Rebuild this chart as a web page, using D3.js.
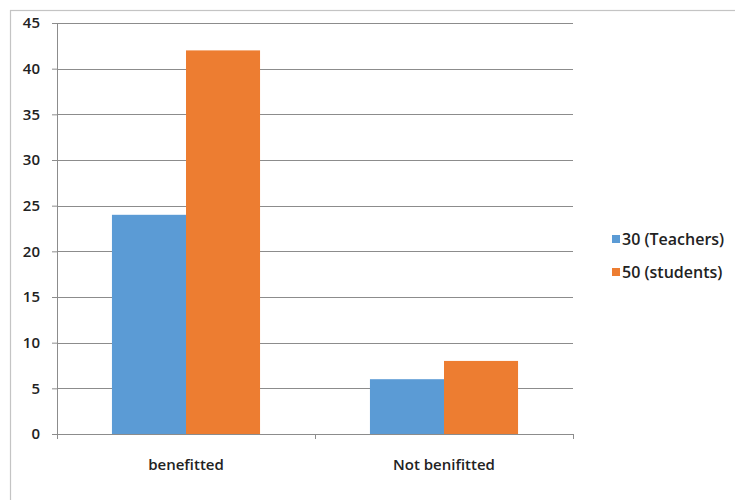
<!DOCTYPE html>
<html>
<head>
<meta charset="utf-8">
<script src="https://cdn.jsdelivr.net/npm/d3@7"></script>
<style>
  html, body { margin: 0; padding: 0; background: #fff; }
  svg { display: block; }
  text { font-family: "Open Sans", "DejaVu Sans", sans-serif; fill: #222; }
</style>
</head>
<body>
<svg id="chart" width="735" height="500"></svg>
<script>
// Survey outcome by group
const categories = ["benefitted", "Not benifitted"];
const seriesNames = ["30 (Teachers)", "50 (students)"];
const teachers = [24, 6];
const students = [42, 8];
const yTicks = [0, 5, 10, 15, 20, 25, 30, 35, 40, 45];
const colors = ["#5b9bd5", "#ed7d31"];

const svg = d3.select("#chart");
const margin = { left: 57, right: 162, top: 23, bottom: 66 };
const width = 735 - margin.left - margin.right;
const height = 500 - margin.top - margin.bottom;

// chart border
svg.append("rect")
  .attr("x", 10.5).attr("y", 10.5)
  .attr("width", 740).attr("height", 500)
  .attr("fill", "none").attr("stroke", "#c4c4c4").attr("stroke-width", 1.2);

const g = svg.append("g").attr("transform", `translate(${margin.left},${margin.top})`);

const x0 = d3.scaleBand().domain(categories).range([0, width]).paddingInner(0.426).paddingOuter(0.213);
const x1 = d3.scaleBand().domain(seriesNames).range([0, x0.bandwidth()]);
const y = d3.scaleLinear().domain([0, 45]).range([height, 0]);

// horizontal gridlines
g.append("g").selectAll("line").data(yTicks.filter(d => d > 0)).join("line")
  .attr("x1", 0).attr("x2", width)
  .attr("y1", d => Math.round(y(d)) + 0.5).attr("y2", d => Math.round(y(d)) + 0.5)
  .attr("stroke", "#8c8c8c").attr("stroke-width", 1);

// bars
const rows = categories.map((c, i) => ({ cat: c, vals: [teachers[i], students[i]] }));
g.append("g").selectAll("g").data(rows).join("g")
  .attr("transform", d => `translate(${x0(d.cat)},0)`)
  .selectAll("rect").data(d => d.vals.map((v, j) => ({ name: seriesNames[j], v, j }))).join("rect")
  .attr("x", d => x1(d.name)).attr("width", x1.bandwidth())
  .attr("y", d => y(d.v)).attr("height", d => height - y(d.v))
  .attr("fill", d => colors[d.j]);

// y axis
const yAxis = g.append("g")
  .call(d3.axisLeft(y).tickValues(yTicks).tickSize(5).tickPadding(12).tickFormat(d3.format("d")));
yAxis.select(".domain").attr("stroke", "#8c8c8c").attr("d", `M0.5,0V${height}`);
yAxis.selectAll(".tick line").attr("stroke", "#8c8c8c");
yAxis.selectAll("text").style("font-size", "15px").style("font-weight", "600").attr("fill", "#333");

// x axis with boundary ticks between categories
const xAxisG = g.append("g").attr("transform", `translate(0,${height})`);
xAxisG.append("line").attr("x1", 0).attr("x2", width).attr("y1", 0.5).attr("y2", 0.5).attr("stroke", "#8c8c8c");
const step = width / categories.length;
xAxisG.selectAll("line.bt").data(d3.range(categories.length + 1)).join("line")
  .attr("class", "bt")
  .attr("x1", d => Math.round(d * step) + 0.5).attr("x2", d => Math.round(d * step) + 0.5)
  .attr("y1", 0).attr("y2", 5).attr("stroke", "#8c8c8c");
xAxisG.selectAll("text").data(categories).join("text")
  .attr("x", d => x0(d) + x0.bandwidth() / 2).attr("y", 36)
  .attr("text-anchor", "middle")
  .style("font-size", "15px").style("font-weight", "600").attr("fill", "#333")
  .text(d => d);

// legend
const legend = svg.append("g").attr("transform", "translate(612,232)");
const items = legend.selectAll("g").data(seriesNames).join("g")
  .attr("transform", (d, i) => `translate(0,${i * 33})`);
items.append("rect").attr("width", 8).attr("height", 8).attr("y", 3).attr("fill", (d, i) => colors[i]);
items.append("text").attr("x", 10).attr("y", 13)
  .style("font-size", "16px").style("font-weight", "600").attr("fill", "#3a3a3a").text(d => d);
</script>
</body>
</html>
